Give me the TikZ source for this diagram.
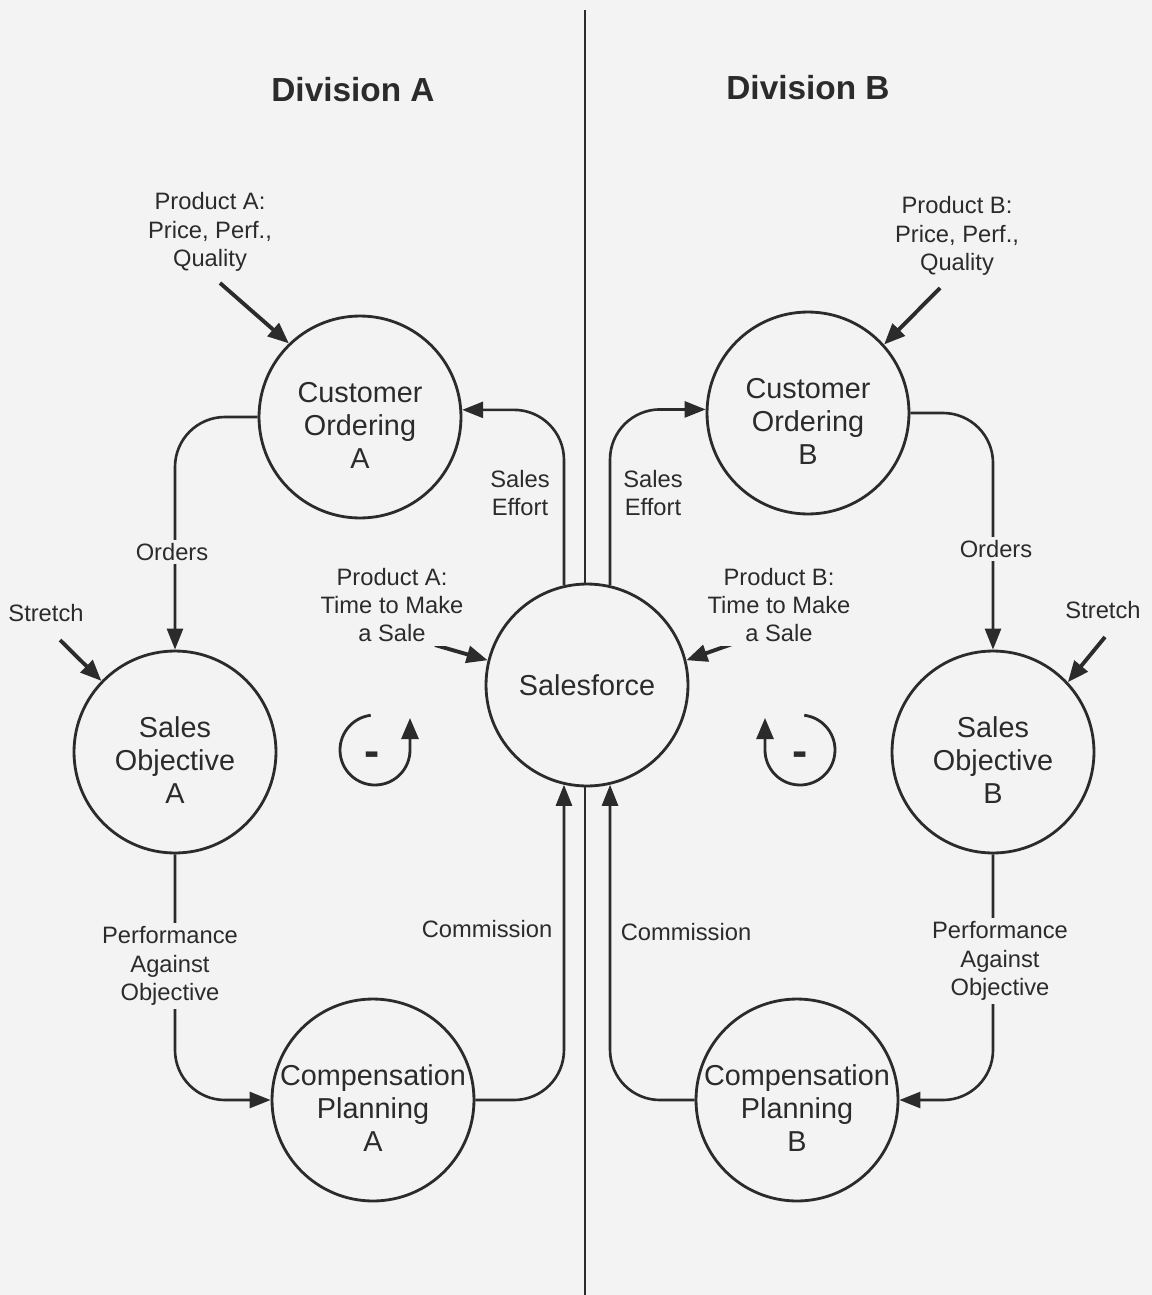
\documentclass[tikz,border=0pt]{standalone}
\usepackage{fontspec}
\setmainfont{Liberation Sans}
\usetikzlibrary{arrows.meta}
\definecolor{paper}{HTML}{F3F3F3}
\definecolor{ink}{HTML}{2B2B2B}
\begin{document}
\begin{tikzpicture}[x=0.02cm, y=-0.02cm,
  every node/.style={text=ink, align=center},
  sector/.style={circle, draw=ink, line width=1.6pt, minimum size=4.04cm, inner sep=-14pt, text height=59pt, font=\fontsize{16.4}{19}\selectfont},
  flow/.style={draw=ink, line width=1.5pt, rounded corners=1cm, -{Triangle[length=0.42cm, width=0.32cm]}},
  push/.style={draw=ink, line width=2.2pt, -{Triangle[length=0.42cm, width=0.34cm]}},
  spin/.style={draw=ink, line width=1.6pt, -{Triangle[length=0.42cm, width=0.34cm]}},
  tag/.style={font=\fontsize{13.5}{16.2}\selectfont, fill=paper, inner sep=2pt},
  minus/.style={font=\fontsize{26}{26}\selectfont\bfseries, inner sep=0pt, yshift=-0.14cm},
  head/.style={font=\fontsize{19}{22}\selectfont\bfseries}]

  \path[use as bounding box, fill=paper] (0,0) rectangle (1152,1295);

  \node[head] (diva) at (353,90) {Division A};
  \node[head] (divb) at (808,88) {Division B};

  \node[sector] (coa) at (360,417) {Customer\\Ordering\\A};
  \node[sector] (cob) at (808,413) {Customer\\Ordering\\B};
  \node[sector, text height=11.7pt] (sf) at (587,685) {Salesforce};
  \node[sector] (soa) at (175,752) {Sales\\Objective\\A};
  \node[sector] (sob) at (993,752) {Sales\\Objective\\B};
  \node[sector] (cpa) at (373,1100) {Compensation\\Planning\\A};
  \node[sector] (cpb) at (797,1100) {Compensation\\Planning\\B};

  \coordinate (top) at (585,10);
  \coordinate (bot) at (585,1295);
  \draw[ink, line width=1pt] (top) -- (top |- sf.north);
  \draw[ink, line width=1pt] (bot |- sf.south) -- (bot);

  \draw[flow] (coa.west) -| (soa.north);
  \draw[flow] (sf.103) |- (coa.4);
  \draw[flow] (sf.77) |- (cob.178);
  \draw[flow] (cob.east) -| (sob.north);
  \draw[flow] (soa.south) |- (cpa.west);
  \draw[flow] (cpa.east) -| (sf.257);
  \draw[flow] (cpb.west) -| (sf.283);
  \draw[flow] (sob.south) |- (cpb.east);

  \coordinate (pas) at (220,283);
  \coordinate (pbs) at (940,288);
  \coordinate (sas) at (60,640);
  \coordinate (sbs) at (1105,637);
  \coordinate (tas) at (435,645);
  \coordinate (tbs) at (735,643);
  \draw[push] (pas) -- (coa.134);
  \draw[push] (pbs) -- (cob.42);
  \draw[push] (sas) -- (soa.136);
  \draw[push] (sbs) -- (sob.43);
  \draw[push] (tas) -- (sf.166);
  \draw[push] (tbs) -- (sf.14);

  \node[tag] (pa) at (210,232) {Product A:\\Price, Perf.,\\Quality};
  \node[tag] (pb) at (957,236) {Product B:\\Price, Perf.,\\Quality};
  \node[tag] (sta) at (46,613) {Stretch};
  \node[tag] (stb) at (1103,610) {Stretch};
  \node[tag] (ta) at (392,605) {Product A:\\Time to Make\\a Sale};
  \node[tag] (tb) at (779,605) {Product B:\\Time to Make\\a Sale};
  \node[tag] (orda) at (172,552) {Orders};
  \node[tag] (ordb) at (996,549) {Orders};
  \node[tag] (sea) at (520,493) {Sales\\Effort};
  \node[tag] (seb) at (653,493) {Sales\\Effort};
  \node[tag] (paoa) at (170,966) {Performance\\Against\\Objective};
  \node[tag] (paob) at (1000,961) {Performance\\Against\\Objective};
  \node[tag] (coma) at (487,929) {Commission};
  \node[tag] (comb) at (686,932) {Commission};

  \coordinate (la) at (375,750);
  \coordinate (lb) at (800,750);
  \draw[spin] ([shift={(97:0.7cm)}]la) arc[start angle=97, end angle=360, radius=0.7cm] -- ++(0,-32);
  \draw[spin] ([shift={(83:0.7cm)}]lb) arc[start angle=83, end angle=-180, radius=0.7cm] -- ++(0,-32);
  \node[minus] (ma) at (372,752) {-};
  \node[minus] (mb) at (800,752) {-};
\end{tikzpicture}
\end{document}
